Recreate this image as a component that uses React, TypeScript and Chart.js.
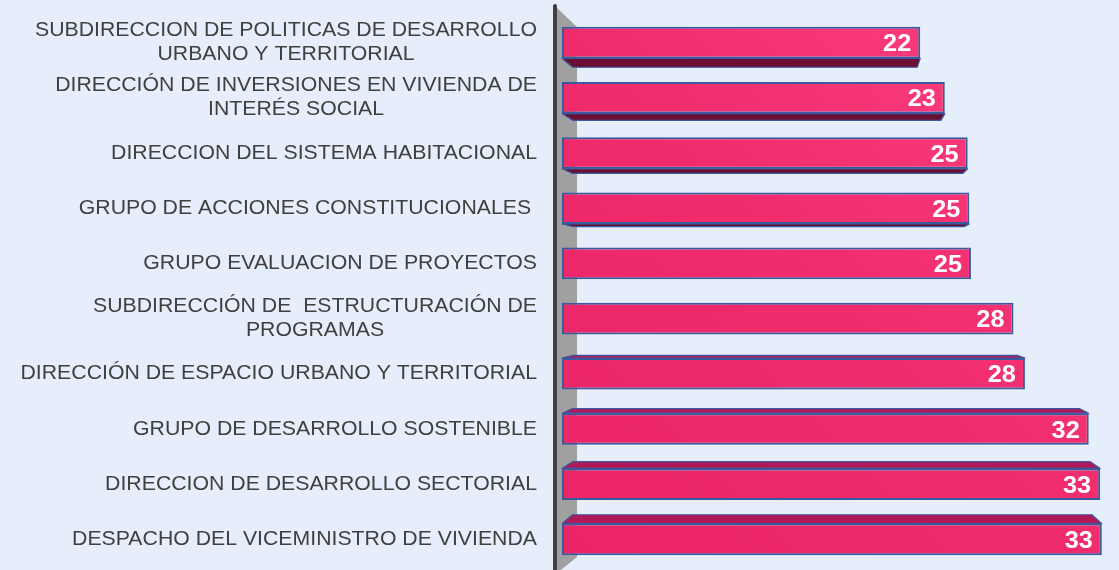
import React, { useEffect, useRef } from "react";
import { Chart, registerables } from "chart.js";

Chart.register(...registerables);

const categoryLines: string[][] = [
  ["SUBDIRECCION DE POLITICAS DE DESARROLLO", "URBANO Y TERRITORIAL"],
  ["DIRECCIÓN DE INVERSIONES EN VIVIENDA DE", "INTERÉS SOCIAL"],
  ["DIRECCION DEL SISTEMA HABITACIONAL"],
  ["GRUPO DE ACCIONES CONSTITUCIONALES "],
  ["GRUPO EVALUACION DE PROYECTOS"],
  ["SUBDIRECCIÓN DE  ESTRUCTURACIÓN DE", "PROGRAMAS"],
  ["DIRECCIÓN DE ESPACIO URBANO Y TERRITORIAL"],
  ["GRUPO DE DESARROLLO SOSTENIBLE"],
  ["DIRECCION DE DESARROLLO SECTORIAL"],
  ["DESPACHO DEL VICEMINISTRO DE VIVIENDA"],
];

const values: number[] = [21.9, 23.4, 24.8, 24.9, 25.0, 27.6, 28.3, 32.2, 32.9, 33.0];

const X_MIN = 0;
const X_MAX = 33.5;

const BG = "#E6EEFB";
const BORDER = "#3A5AA0";
const TOP_FACE = "#B0185A";
const BOTTOM_FACE = "#6A0F33";
const LABEL_COLOR = "#404040";

const FONT = '"Liberation Sans", Arial, sans-serif';

const threeDPlugin = {
  id: "threeD",
  beforeDatasetsDraw(chart: any) {
    const ctx = chart.ctx as CanvasRenderingContext2D;
    const ca = chart.chartArea;
    // wall
    ctx.save();
    ctx.fillStyle = "#A0A0A0";
    ctx.beginPath();
    ctx.moveTo(ca.left - 5, ca.top - 7);
    ctx.lineTo(ca.left + 15, ca.top + 12);
    ctx.lineTo(ca.left + 15, ca.bottom - 10);
    ctx.lineTo(ca.left - 5, ca.bottom + 6);
    ctx.closePath();
    ctx.fill();
    ctx.strokeStyle = "#404040";
    ctx.lineWidth = 4;
    ctx.lineCap = "round";
    ctx.beginPath();
    ctx.moveTo(ca.left - 7, ca.top - 9);
    ctx.lineTo(ca.left - 7, chart.height + 5);
    ctx.stroke();
    ctx.restore();

    const vx = ca.left + (ca.right - ca.left) * 0.51;
    const vy = (ca.top + ca.bottom) / 2;
    const s = 0.962;
    const bx = (x: number) => vx + (x - vx) * s;
    const by = (y: number) => vy + (y - vy) * s;
    const meta = chart.getDatasetMeta(0);
    ctx.save();
    ctx.lineWidth = 1.2;
    ctx.strokeStyle = BORDER;
    ctx.lineJoin = "round";
    meta.data.forEach((bar: any) => {
      const p = bar.getProps(["x", "y", "base", "height"], true);
      const top = p.y - p.height / 2;
      const bot = p.y + p.height / 2;
      const l = p.base;
      const r = p.x;
      if (by(bot) > bot + 0.5) {
        ctx.fillStyle = BOTTOM_FACE;
        ctx.beginPath();
        ctx.moveTo(l, bot);
        ctx.lineTo(r, bot);
        ctx.lineTo(bx(r), by(bot));
        ctx.lineTo(bx(l), by(bot));
        ctx.closePath();
        ctx.fill();
        ctx.stroke();
      }
      if (by(top) < top - 0.5) {
        ctx.fillStyle = TOP_FACE;
        ctx.beginPath();
        ctx.moveTo(l, top);
        ctx.lineTo(r, top);
        ctx.lineTo(bx(r), by(top));
        ctx.lineTo(bx(l), by(top));
        ctx.closePath();
        ctx.fill();
        ctx.stroke();
      }
    });
    ctx.restore();
  },
  afterDatasetsDraw(chart: any) {
    const ctx = chart.ctx as CanvasRenderingContext2D;
    const ca = chart.chartArea;
    const yScale = chart.scales.y;
    const meta = chart.getDatasetMeta(0);
    ctx.save();
    // category labels
    const sx = 1.09;
    const lineH = 24;
    const rightX = ca.left - 25;
    categoryLines.forEach((lines, i) => {
      const cy = yScale.getPixelForValue(i);
      ctx.font = `19.5px ${FONT}`;
      ctx.fillStyle = LABEL_COLOR;
      ctx.textBaseline = "alphabetic";
      const widths = lines.map((t) => ctx.measureText(t).width * sx);
      const maxW = Math.max(...widths);
      let firstBase = cy - (lines.length - 1) * (lineH / 2) - 1.5 + 7;
      if (firstBase < 30) firstBase = 30;
      lines.forEach((t, k) => {
        const w = widths[k];
        const x0 = rightX - maxW / 2 - w / 2;
        ctx.save();
        ctx.translate(x0, firstBase + k * lineH);
        ctx.scale(sx, 1);
        ctx.textAlign = "left";
        ctx.fillText(t, 0, 0);
        ctx.restore();
      });
    });
    // value labels
    meta.data.forEach((bar: any, i: number) => {
      const p = bar.getProps(["x", "y"], true);
      ctx.save();
      ctx.font = `bold 23px ${FONT}`;
      ctx.fillStyle = "#FFFFFF";
      ctx.textAlign = "right";
      ctx.textBaseline = "alphabetic";
      ctx.translate(p.x - 9, p.y + 8.5);
      ctx.scale(1.1, 1);
      ctx.fillText(String(Math.round(values[i])), 0, 0);
      ctx.restore();
    });
    ctx.restore();
  },
};

export default function App() {
  const ref = useRef<HTMLCanvasElement>(null);
  useEffect(() => {
    if (!ref.current) return;
    const chart = new Chart(ref.current, {
      type: "bar",
      data: {
        labels: categoryLines.map((l) => l.join(" ")),
        datasets: [
          {
            data: values,
            backgroundColor: (c: any) => {
              const ch = c.chart;
              const ca = ch.chartArea;
              if (!ca) return "#F0306E";
              const g = ch.ctx.createLinearGradient(ca.left, ca.bottom, ca.right, ca.top);
              g.addColorStop(0, "#EA2467");
              g.addColorStop(0.5, "#F02C6D");
              g.addColorStop(1, "#FF4282");
              return g;
            },
            borderColor: BORDER,
            borderWidth: 2,
            borderSkipped: false,
            barPercentage: 0.572,
            categoryPercentage: 1,
          },
        ],
      },
      options: {
        indexAxis: "y",
        animation: false,
        responsive: false,
        devicePixelRatio: 1,
        layout: { padding: { left: 562, right: 9, top: 15, bottom: 3 } },
        scales: {
          x: { min: X_MIN, max: X_MAX, display: false },
          y: { display: false },
        },
        plugins: {
          legend: { display: false },
          tooltip: { enabled: false },
        },
      } as any,
      plugins: [threeDPlugin],
    });
    return () => chart.destroy();
  }, []);
  return (
    <div
      style={{
        position: "fixed",
        left: 0,
        top: 0,
        width: 1119,
        height: 570,
        background: BG,
      }}
    >
      <canvas ref={ref} width={1119} height={570} style={{ display: "block" }} />
    </div>
  );
}
